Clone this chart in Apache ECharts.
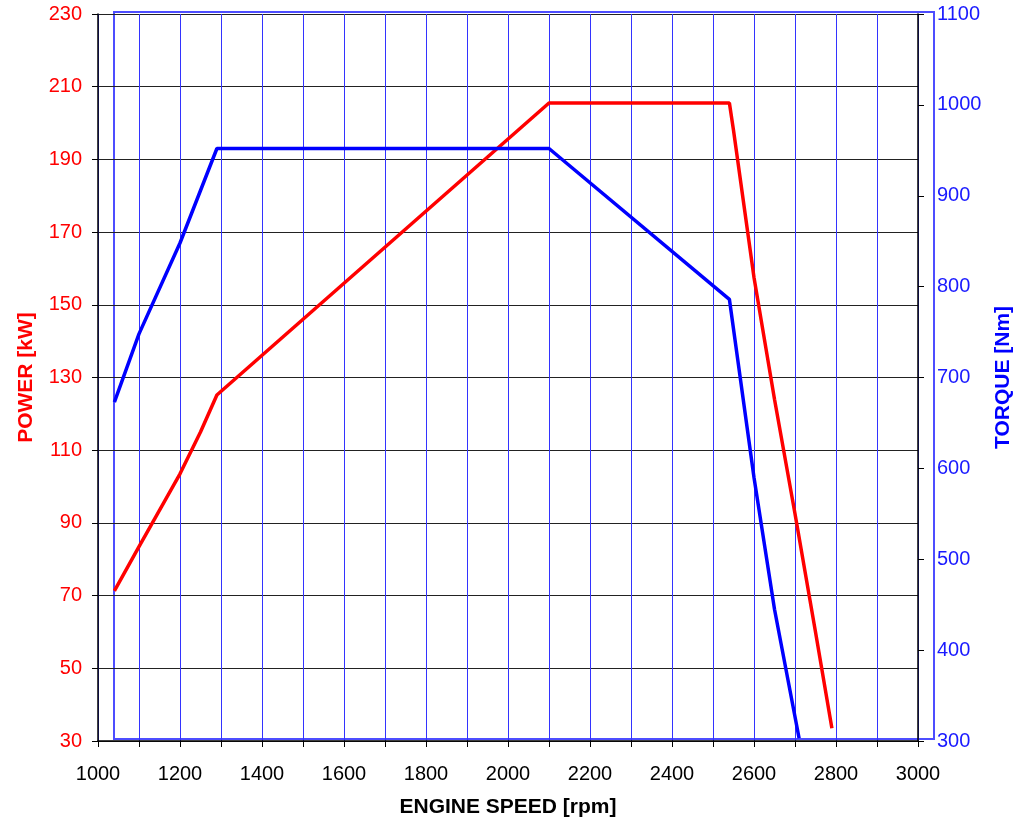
<!DOCTYPE html>
<html>
<head>
<meta charset="utf-8">
<script src="https://cdn.jsdelivr.net/npm/echarts@6/dist/echarts.min.js"></script>
<style>
html,body{margin:0;padding:0;background:#fff;}
#chart{width:1036px;height:823px;}
</style>
</head>
<body>
<div id="chart"></div>
<script>
// ---- data ----
const rpmPower = [1040, 1100, 1200, 1250, 1290, 2100, 2540, 2550, 2600, 2650, 2700, 2750, 2790];
const powerKW  = [71.3, 83.5, 103.5, 115, 125.2, 205.5, 205.5, 198, 157.5, 124, 92.5, 60, 33.5];

const rpmTorque = [1040, 1100, 1200, 1290, 2100, 2540, 2600, 2650, 2710];
const torqueNm  = [673, 748, 848, 952, 952, 786, 590, 445, 303];

const xTitle = 'ENGINE SPEED [rpm]';
const powerTitle = 'POWER [kW]';
const torqueTitle = 'TORQUE [Nm]';

const font = 'Liberation Sans, Arial, sans-serif';

const chart = echarts.init(document.getElementById('chart'), null, {renderer: 'canvas'});

const option = {
  animation: false,
  backgroundColor: '#ffffff',
  grid: [
    {left: 98, right: 118, top: 14, bottom: 82, show: false},
    {left: 114, right: 102, top: 12, bottom: 84, show: true,
     borderColor: '#4d4dff', borderWidth: 2, backgroundColor: 'transparent'}
  ],
  xAxis: [
    {
      type: 'value', gridIndex: 0, min: 1000, max: 3000, interval: 100,
      axisLine: {show: true, lineStyle: {color: '#000', width: 1.5}},
      axisTick: {show: true, length: 6, lineStyle: {color: '#000'}},
      axisLabel: {
        color: '#000', fontFamily: font, fontSize: 20, margin: 23,
        formatter: v => (v % 200 === 0 ? String(v) : '')
      },
      splitLine: {show: true, lineStyle: {color: '#3333ff', width: 1}},
      name: xTitle, nameLocation: 'middle', nameGap: 56,
      nameTextStyle: {color: '#000', fontFamily: font, fontSize: 21, fontWeight: 'bold'}
    },
    {type: 'value', gridIndex: 1, min: 0, max: 1, show: false}
  ],
  yAxis: [
    {
      type: 'value', gridIndex: 0, position: 'left', min: 30, max: 230, interval: 20,
      axisLine: {show: true, lineStyle: {color: '#000', width: 1.5}},
      axisTick: {show: true, length: 6, lineStyle: {color: '#000'}},
      axisLabel: {color: '#ff0000', fontFamily: font, fontSize: 20, margin: 16,
        formatter: v => String(v)},
      splitLine: {show: true, lineStyle: {color: '#222', width: 1}},
      name: powerTitle, nameLocation: 'middle', nameGap: 61, nameRotate: 90,
      nameTextStyle: {color: '#ff0000', fontFamily: font, fontSize: 21, fontWeight: 'bold'}
    },
    {
      type: 'value', gridIndex: 0, position: 'right', min: 300, max: 1100, interval: 100,
      axisLine: {show: true, lineStyle: {color: '#000', width: 1.5}},
      axisTick: {show: true, length: 6, lineStyle: {color: '#000'}},
      axisLabel: {color: '#1a1aff', fontFamily: font, fontSize: 20, margin: 19,
        formatter: v => String(v)},
      splitLine: {show: false},
      name: torqueTitle, nameLocation: 'middle', nameGap: 71, nameRotate: 90,
      nameTextStyle: {color: '#0000ff', fontFamily: font, fontSize: 21, fontWeight: 'bold'}
    },
    {type: 'value', gridIndex: 1, min: 0, max: 1, show: false}
  ],
  series: [
    {
      name: 'Power', type: 'line', xAxisIndex: 0, yAxisIndex: 0,
      data: rpmPower.map((r, i) => [r, powerKW[i]]),
      showSymbol: false, symbol: 'none', z: 3,
      lineStyle: {color: '#ff0000', width: 3.5}
    },
    {
      name: 'Torque', type: 'line', xAxisIndex: 0, yAxisIndex: 1,
      data: rpmTorque.map((r, i) => [r, torqueNm[i]]),
      showSymbol: false, symbol: 'none', z: 4,
      lineStyle: {color: '#0000ff', width: 3.5}
    }
  ]
};

chart.setOption(option);
</script>
</body>
</html>
